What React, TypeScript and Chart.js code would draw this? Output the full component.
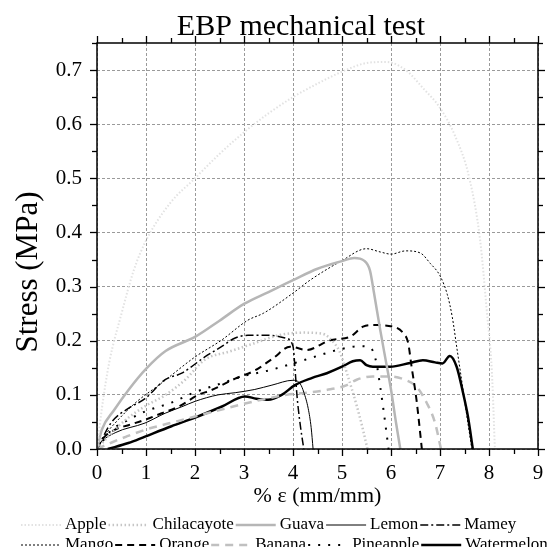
import React, { useEffect, useRef } from 'react';
import { Chart, registerables } from 'chart.js';

Chart.register(...registerables);

// ---------- data ----------
const seriesNames = ['Apple', 'Chilacayote', 'Guava', 'Lemon', 'Mamey', 'Mango', 'Orange', 'Banana', 'Pineapple', 'Watermelon'];

const appleX = [0, 0.1, 0.25, 0.5, 0.75, 1.0, 1.5, 2.0, 2.5, 3.0, 3.5, 4.0, 4.5, 5.0, 5.5, 5.9, 6.3, 6.65, 7.0, 7.3, 7.6, 7.82, 7.95, 8.06, 8.12];
const appleY = [0, 0.075, 0.16, 0.25, 0.33, 0.385, 0.455, 0.5, 0.545, 0.585, 0.62, 0.65, 0.675, 0.697, 0.713, 0.715, 0.7, 0.667, 0.63, 0.58, 0.5, 0.385, 0.26, 0.14, 0];

const chilacayoteX = [0, 0.3, 0.6, 1.0, 1.4, 1.8, 2.2, 2.7, 3.2, 3.7, 4.2, 4.6, 4.8, 4.95, 5.1, 5.3, 5.43, 5.52];
const chilacayoteY = [0, 0.03, 0.055, 0.08, 0.1, 0.128, 0.165, 0.18, 0.195, 0.21, 0.215, 0.213, 0.2, 0.18, 0.14, 0.08, 0.035, 0];

const guavaX = [0, 0.1, 0.35, 0.65, 1.0, 1.4, 2.0, 2.5, 3.0, 3.5, 4.0, 4.5, 5.0, 5.25, 5.45, 5.57, 5.65, 5.78, 5.9, 6.0, 6.1, 6.19];
const guavaY = [0, 0.036, 0.072, 0.11, 0.148, 0.181, 0.207, 0.237, 0.268, 0.29, 0.312, 0.333, 0.347, 0.353, 0.348, 0.33, 0.29, 0.22, 0.16, 0.11, 0.05, 0];

const lemonX = [0, 0.07, 0.37, 0.98, 1.39, 1.73, 2.0, 2.47, 2.82, 3.22, 3.57, 4.0, 4.15, 4.22, 4.31, 4.37, 4.41];
const lemonY = [0, 0.011, 0.03, 0.048, 0.066, 0.078, 0.088, 0.1, 0.104, 0.11, 0.118, 0.127, 0.12, 0.105, 0.075, 0.04, 0];

const mameyX = [0, 0.3, 0.64, 0.98, 1.39, 1.73, 2.2, 2.54, 2.82, 3.08, 3.49, 3.84, 4.0, 4.04, 4.08, 4.14, 4.22];
const mameyY = [0, 0.05, 0.075, 0.093, 0.128, 0.14, 0.17, 0.189, 0.205, 0.21, 0.21, 0.205, 0.19, 0.15, 0.1, 0.05, 0];

const mangoX = [0, 0.2, 0.37, 0.78, 1.32, 2.0, 2.54, 3.08, 3.4, 4.0, 4.35, 5.0, 5.5, 5.78, 6.0, 6.3, 6.6, 6.8, 7.0, 7.15, 7.25, 7.35, 7.45, 7.55, 7.65];
const mangoY = [0, 0.03, 0.048, 0.085, 0.122, 0.17, 0.201, 0.238, 0.251, 0.288, 0.312, 0.348, 0.37, 0.364, 0.36, 0.366, 0.362, 0.343, 0.32, 0.285, 0.244, 0.183, 0.122, 0.06, 0];

const orangeX = [0, 0.1, 0.37, 0.64, 0.98, 1.32, 1.66, 2.07, 2.34, 2.82, 3.22, 3.6, 3.94, 4.28, 4.76, 5.16, 5.43, 5.63, 6.04, 6.25, 6.35, 6.42, 6.52, 6.63];
const orangeY = [0, 0.017, 0.036, 0.044, 0.054, 0.066, 0.078, 0.1, 0.109, 0.13, 0.145, 0.168, 0.189, 0.183, 0.201, 0.207, 0.226, 0.229, 0.226, 0.214, 0.196, 0.152, 0.091, 0];

const bananaX = [0, 0.3, 0.6, 1.0, 1.5, 2.0, 2.67, 3.36, 3.87, 4.3, 4.69, 5.1, 5.3, 5.63, 5.98, 6.28, 6.52, 6.73, 6.9, 7.02];
const bananaY = [0, 0.012, 0.023, 0.036, 0.048, 0.06, 0.076, 0.091, 0.1, 0.104, 0.109, 0.118, 0.128, 0.134, 0.134, 0.128, 0.115, 0.085, 0.048, 0];

const pineappleX = [0, 0.3, 0.6, 1.0, 1.5, 2.0, 2.5, 3.0, 3.5, 4.0, 4.5, 5.0, 5.4, 5.6, 5.7, 5.78, 5.85, 5.95];
const pineappleY = [0, 0.035, 0.052, 0.07, 0.085, 0.105, 0.12, 0.135, 0.145, 0.158, 0.172, 0.185, 0.19, 0.185, 0.16, 0.115, 0.07, 0];

const watermelonX = [0.22, 0.64, 0.98, 1.52, 2.0, 2.54, 3.02, 3.25, 3.49, 3.77, 4.04, 4.38, 4.69, 5.0, 5.22, 5.37, 5.5, 5.63, 5.98, 6.39, 6.65, 6.9, 7.05, 7.2, 7.34, 7.47, 7.57, 7.67];
const watermelonY = [0, 0.011, 0.023, 0.042, 0.058, 0.078, 0.097, 0.093, 0.091, 0.1, 0.118, 0.131, 0.14, 0.152, 0.162, 0.164, 0.155, 0.152, 0.152, 0.159, 0.164, 0.16, 0.158, 0.172, 0.152, 0.104, 0.06, 0];

const xTickValues = [0, 1, 2, 3, 4, 5, 6, 7, 8, 9];
const yTickValues = [0, 0.1, 0.2, 0.3, 0.4, 0.5, 0.6, 0.7];

const titleText = 'EBP mechanical test';
const xTitleText = '% ε (mm/mm)';
const yTitleText = 'Stress (MPa)';

// ---------- styles ----------
const seriesX = [appleX, chilacayoteX, guavaX, lemonX, mameyX, mangoX, orangeX, bananaX, pineappleX, watermelonX];
const seriesY = [appleY, chilacayoteY, guavaY, lemonY, mameyY, mangoY, orangeY, bananaY, pineappleY, watermelonY];
const seriesStyle = [
  { color: '#e2e2e2', width: 2, dash: [1.5, 2] },
  { color: '#c6c6c6', width: 2.5, dash: [1.5, 2.5] },
  { color: '#b6b6b6', width: 2.5, dash: [] },
  { color: '#000000', width: 1, dash: [] },
  { color: '#000000', width: 1.5, dash: [8, 3, 2, 3] },
  { color: '#000000', width: 1, dash: [2, 2] },
  { color: '#000000', width: 2, dash: [7, 5] },
  { color: '#c0c0c0', width: 2.5, dash: [8, 6] },
  { color: '#000000', width: 2, dash: [2, 8] },
  { color: '#000000', width: 2.5, dash: [] },
];

const FONT = "'Liberation Serif', 'Times New Roman', serif";

const decorPlugin = {
  id: 'decor',
  afterDraw(chart: any) {
    const { ctx, chartArea: a, scales } = chart;
    const xs = scales.x;
    const ys = scales.y;
    ctx.save();
    ctx.strokeStyle = '#000';
    ctx.setLineDash([]);
    ctx.lineWidth = 1.5;
    ctx.strokeRect(a.left, a.top, a.right - a.left, a.bottom - a.top);
    ctx.lineWidth = 1.3;
    const seg = (x1: number, y1: number, x2: number, y2: number) => {
      ctx.beginPath();
      ctx.moveTo(x1, y1);
      ctx.lineTo(x2, y2);
      ctx.stroke();
    };
    for (let i = 0; i <= 18; i++) {
      const px = Math.round(xs.getPixelForValue(i * 0.5)) + 0.5;
      const len = i % 2 === 0 ? 7 : 5;
      seg(px, a.bottom, px, a.bottom + len);
      seg(px, a.top, px, a.top - len);
    }
    for (let i = 0; i <= 15; i++) {
      const py = Math.round(ys.getPixelForValue(i * 0.05)) + 0.5;
      const len = i % 2 === 0 ? 7 : 5;
      seg(a.left, py, a.left - len, py);
      seg(a.right, py, a.right + len, py);
    }
    // title
    ctx.fillStyle = '#000';
    ctx.font = `30px ${FONT}`;
    ctx.textAlign = 'center';
    ctx.textBaseline = 'alphabetic';
    ctx.fillText(titleText, 301, 35);
    // y title
    ctx.save();
    ctx.translate(37, 272);
    ctx.rotate(-Math.PI / 2);
    ctx.font = `31px ${FONT}`;
    ctx.fillText(yTitleText, 0, 0);
    ctx.restore();
    // legend
    ctx.font = `17px ${FONT}`;
    ctx.textAlign = 'left';
    ctx.textBaseline = 'middle';
    const rowY = [525, 545];
    let x = 21;
    chart.data.datasets.forEach((ds: any, i: number) => {
      const row = i < 5 ? 0 : 1;
      if (i === 5) x = 21;
      const y = rowY[row];
      ctx.save();
      ctx.strokeStyle = ds.borderColor;
      ctx.lineWidth = ds.borderWidth;
      ctx.setLineDash(ds.borderDash || []);
      seg(x, y, x + 40, y);
      ctx.restore();
      ctx.fillStyle = '#000';
      ctx.fillText(ds.label, x + 44, y);
      x += 44 + ctx.measureText(ds.label).width + 2;
    });
    ctx.restore();
  },
};

export default function App() {
  const ref = useRef<HTMLCanvasElement | null>(null);
  useEffect(() => {
    if (!ref.current) return;
    const datasets = seriesNames.map((name, i) => ({
      label: name,
      data: seriesX[i].map((xv, j) => ({ x: xv, y: seriesY[i][j] })),
      borderColor: seriesStyle[i].color,
      backgroundColor: 'transparent',
      borderWidth: seriesStyle[i].width,
      borderDash: seriesStyle[i].dash,
      pointRadius: 0,
      cubicInterpolationMode: 'monotone' as const,
      fill: false,
    }));
    const chart = new Chart(ref.current, {
      type: 'line',
      data: { datasets },
      options: {
        animation: false,
        responsive: true,
        maintainAspectRatio: false,
        layout: { padding: { top: 43, right: 18, left: 0, bottom: 0 } },
        plugins: { legend: { display: false }, title: { display: false }, tooltip: { enabled: false } },
        scales: {
          x: {
            type: 'linear',
            min: 0,
            max: 9,
            afterFit: (s: any) => { s.height = 98; },
            afterBuildTicks: (s: any) => { s.ticks = xTickValues.map((v) => ({ value: v })); },
            grid: { color: '#9a9a9a', lineWidth: 1, drawTicks: false },
            border: { display: false, dash: [3, 2] },
            ticks: {
              color: '#000',
              padding: 12,
              font: { family: FONT, size: 21 },
              maxRotation: 0,
              callback: (v: any) => String(v),
            },
            title: {
              display: true,
              text: xTitleText,
              color: '#000',
              font: { family: FONT, size: 22 },
              padding: { top: 0, bottom: 38 },
            },
          },
          y: {
            type: 'linear',
            min: 0,
            max: 0.75,
            afterFit: (s: any) => { s.width = 97; },
            afterBuildTicks: (s: any) => { s.ticks = yTickValues.map((v) => ({ value: v })); },
            grid: { color: '#9a9a9a', lineWidth: 1, drawTicks: false },
            border: { display: false, dash: [3, 2] },
            ticks: {
              color: '#000',
              padding: 15,
              font: { family: FONT, size: 21 },
              callback: (v: any) => Number(v).toFixed(1),
            },
          },
        },
      },
      plugins: [decorPlugin],
    });
    return () => chart.destroy();
  }, []);
  return (
    <div style={{ position: 'fixed', left: 0, top: 0, width: 556, height: 547, background: '#fff' }}>
      <canvas ref={ref} />
    </div>
  );
}
